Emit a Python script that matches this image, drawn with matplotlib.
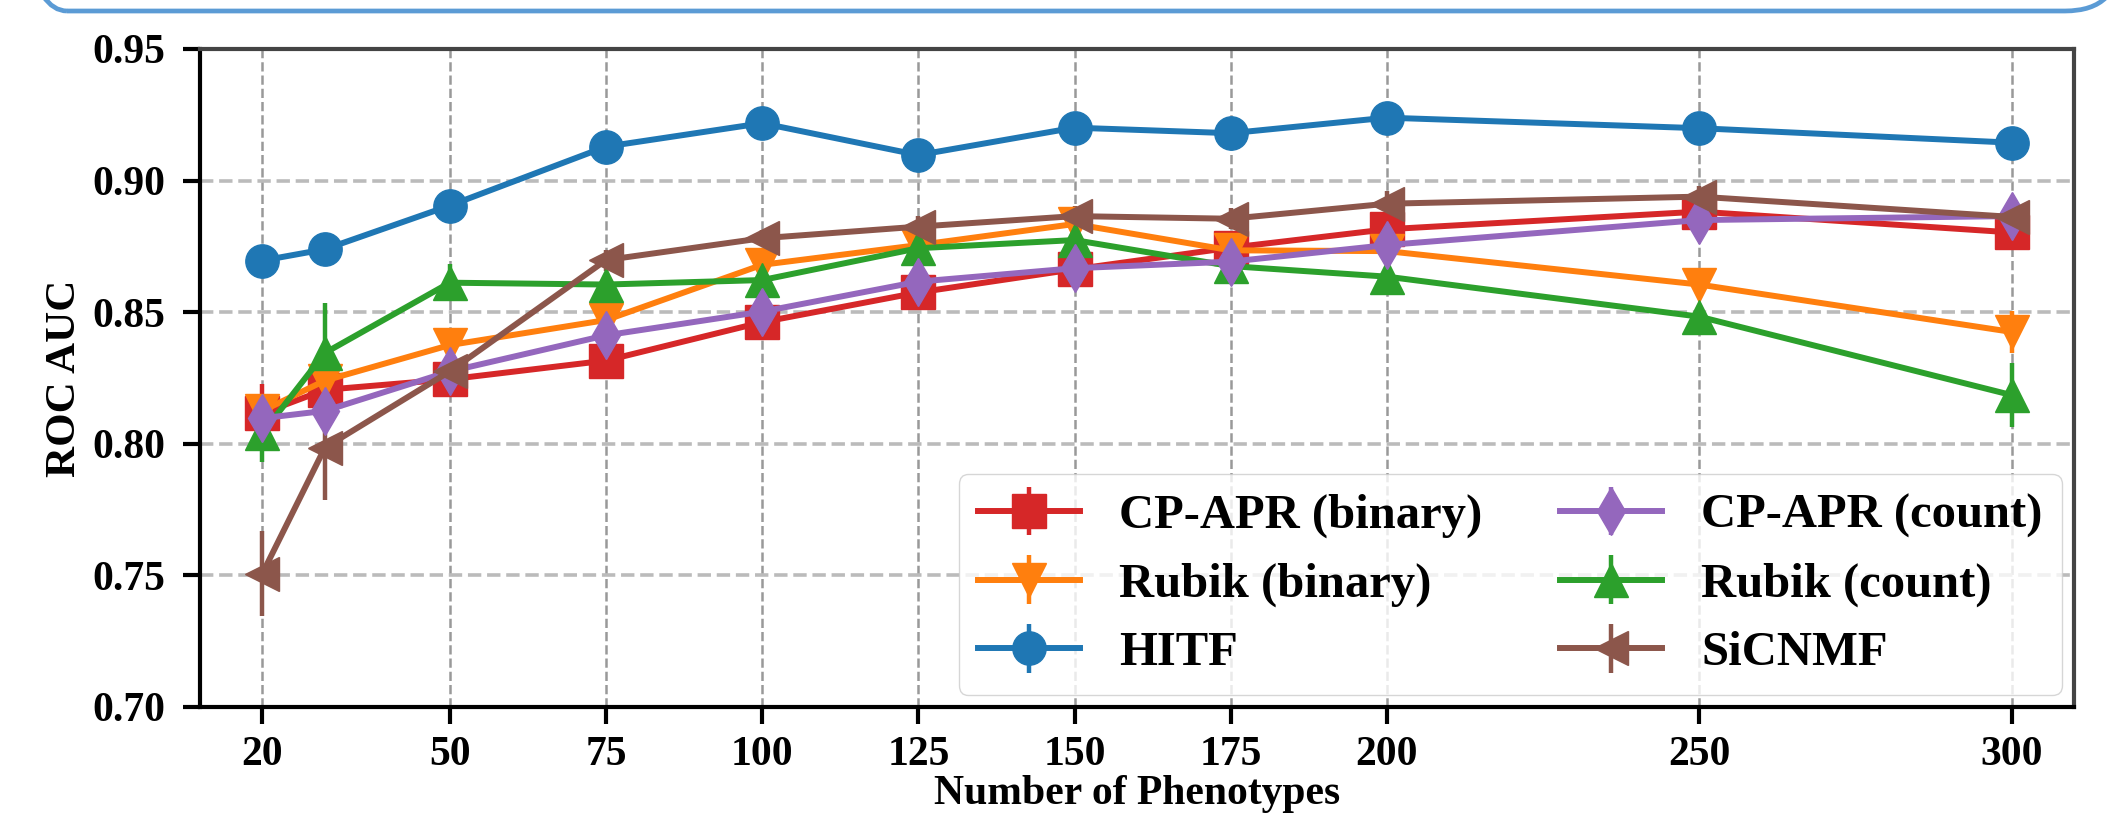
import matplotlib
matplotlib.use("Agg")
import matplotlib.pyplot as plt
from matplotlib.patches import FancyBboxPatch
from matplotlib.transforms import IdentityTransform
import numpy as np

plt.rcParams['font.family'] = ['Liberation Serif', 'DejaVu Serif']
plt.rcParams['font.weight'] = 'bold'
plt.rcParams['axes.labelweight'] = 'bold'

phenotypes = [20, 30, 50, 75, 100, 125, 150, 175, 200, 250, 300]
x_ticks = [20, 50, 75, 100, 125, 150, 175, 200, 250, 300]
y_ticks = [0.70, 0.75, 0.80, 0.85, 0.90, 0.95]

cpapr_binary = [0.8116, 0.8205, 0.8245, 0.8316, 0.8462, 0.8575, 0.8663, 0.8745, 0.8815, 0.8882, 0.8803]
cpapr_binary_err = [0.011, 0.004, 0.004, 0.003, 0.003, 0.003, 0.003, 0.003, 0.003, 0.003, 0.003]

rubik_binary = [0.8125, 0.824, 0.8375, 0.847, 0.868, 0.8755, 0.8835, 0.8735, 0.8732, 0.8605, 0.8425]
rubik_binary_err = [0.003, 0.003, 0.003, 0.003, 0.003, 0.003, 0.004, 0.003, 0.003, 0.003, 0.008]

hitf = [0.8696, 0.8739, 0.8905, 0.9129, 0.9218, 0.9097, 0.9201, 0.9180, 0.9239, 0.9199, 0.9144]
hitf_err = [0.001, 0.0028, 0.0015, 0.001, 0.001, 0.001, 0.001, 0.001, 0.001, 0.001, 0.001]

cpapr_count = [0.8097, 0.8125, 0.8275, 0.8412, 0.8502, 0.8616, 0.8667, 0.8692, 0.8755, 0.8850, 0.8865]
cpapr_count_err = [0.003, 0.006, 0.008, 0.004, 0.003, 0.003, 0.004, 0.004, 0.003, 0.003, 0.006]

rubik_count = [0.804, 0.8345, 0.8612, 0.8605, 0.8622, 0.8743, 0.8774, 0.8675, 0.8635, 0.8483, 0.8185]
rubik_count_err = [0.011, 0.019, 0.007, 0.003, 0.003, 0.003, 0.004, 0.003, 0.003, 0.003, 0.012]

sicnmf = [0.7507, 0.7985, 0.8275, 0.8698, 0.8781, 0.8825, 0.8865, 0.8855, 0.8912, 0.8939, 0.8862]
sicnmf_err = [0.016, 0.02, 0.004, 0.004, 0.003, 0.004, 0.004, 0.004, 0.005, 0.004, 0.003]

fig = plt.figure(figsize=(21.11, 8.19), dpi=100)
ax = fig.add_axes([0.0947, 0.1368, 0.8878, 0.8034])

# rounded slide frame cut off at the top
frame = FancyBboxPatch((12, 808), 2108, 300, boxstyle="round,pad=0,rounding_size=55",
                       transform=IdentityTransform(), fill=False, ec='#5b9bd5', lw=3.4,
                       clip_on=False)
fig.patches.append(frame)

common = dict(lw=4.3, elinewidth=3.2, capsize=0, ms=24)

# drawing order (z-order) differs from the legend order
h_red = ax.errorbar(phenotypes, cpapr_binary, yerr=cpapr_binary_err, color='#d62728', marker='s',
                    label='CP-APR (binary)', **common)
h_orange = ax.errorbar(phenotypes, rubik_binary, yerr=rubik_binary_err, color='#ff7f0e', marker='v',
                       label='Rubik (binary)', **common)
h_blue = ax.errorbar(phenotypes, hitf, yerr=hitf_err, color='#1f77b4', marker='o',
                     label='HITF', **common)
h_green = ax.errorbar(phenotypes, rubik_count, yerr=rubik_count_err, color='#2ca02c', marker='^',
                      label='Rubik (count)', **common)
h_purple = ax.errorbar(phenotypes, cpapr_count, yerr=cpapr_count_err, color='#9467bd', marker='d',
                       label='CP-APR (count)', **common)
h_brown = ax.errorbar(phenotypes, sicnmf, yerr=sicnmf_err, color='#8c564b', marker='<',
                      label='SiCNMF', **common)

ax.set_xlim(10, 310)
ax.set_ylim(0.70, 0.95)
ax.set_xticks(x_ticks)
ax.set_yticks(y_ticks)
ax.set_yticklabels(["%.2f" % v for v in y_ticks])

ax.set_axisbelow(True)
ax.grid(axis='x', ls='--', color='#999999', lw=1.8)
ax.grid(axis='y', ls='--', color='#bbbbbb', lw=2.6)

for s in ['left', 'bottom']:
    ax.spines[s].set_color('black')
    ax.spines[s].set_linewidth(3)
for s in ['top', 'right']:
    ax.spines[s].set_color('#444444')
    ax.spines[s].set_linewidth(3)

ax.tick_params(axis='both', length=12, width=3, labelsize=30)
ax.tick_params(axis='y', pad=13)
ax.tick_params(axis='x', pad=9)

ax.set_xlabel("Number of Phenotypes", fontsize=30)
ax.xaxis.set_label_coords(0.5, -0.104)
ax.set_ylabel("ROC AUC", fontsize=31)
ax.yaxis.set_label_coords(-0.062, 0.5)

handles = [h_red, h_orange, h_blue, h_purple, h_green, h_brown]
labels = [h.get_label() for h in handles]
ax.legend(handles, labels, loc='lower right', ncol=2, fontsize=35, handlelength=2.1,
          columnspacing=1.6, borderaxespad=0.25, labelspacing=0.5)

fig.savefig("out.png", dpi=100)
